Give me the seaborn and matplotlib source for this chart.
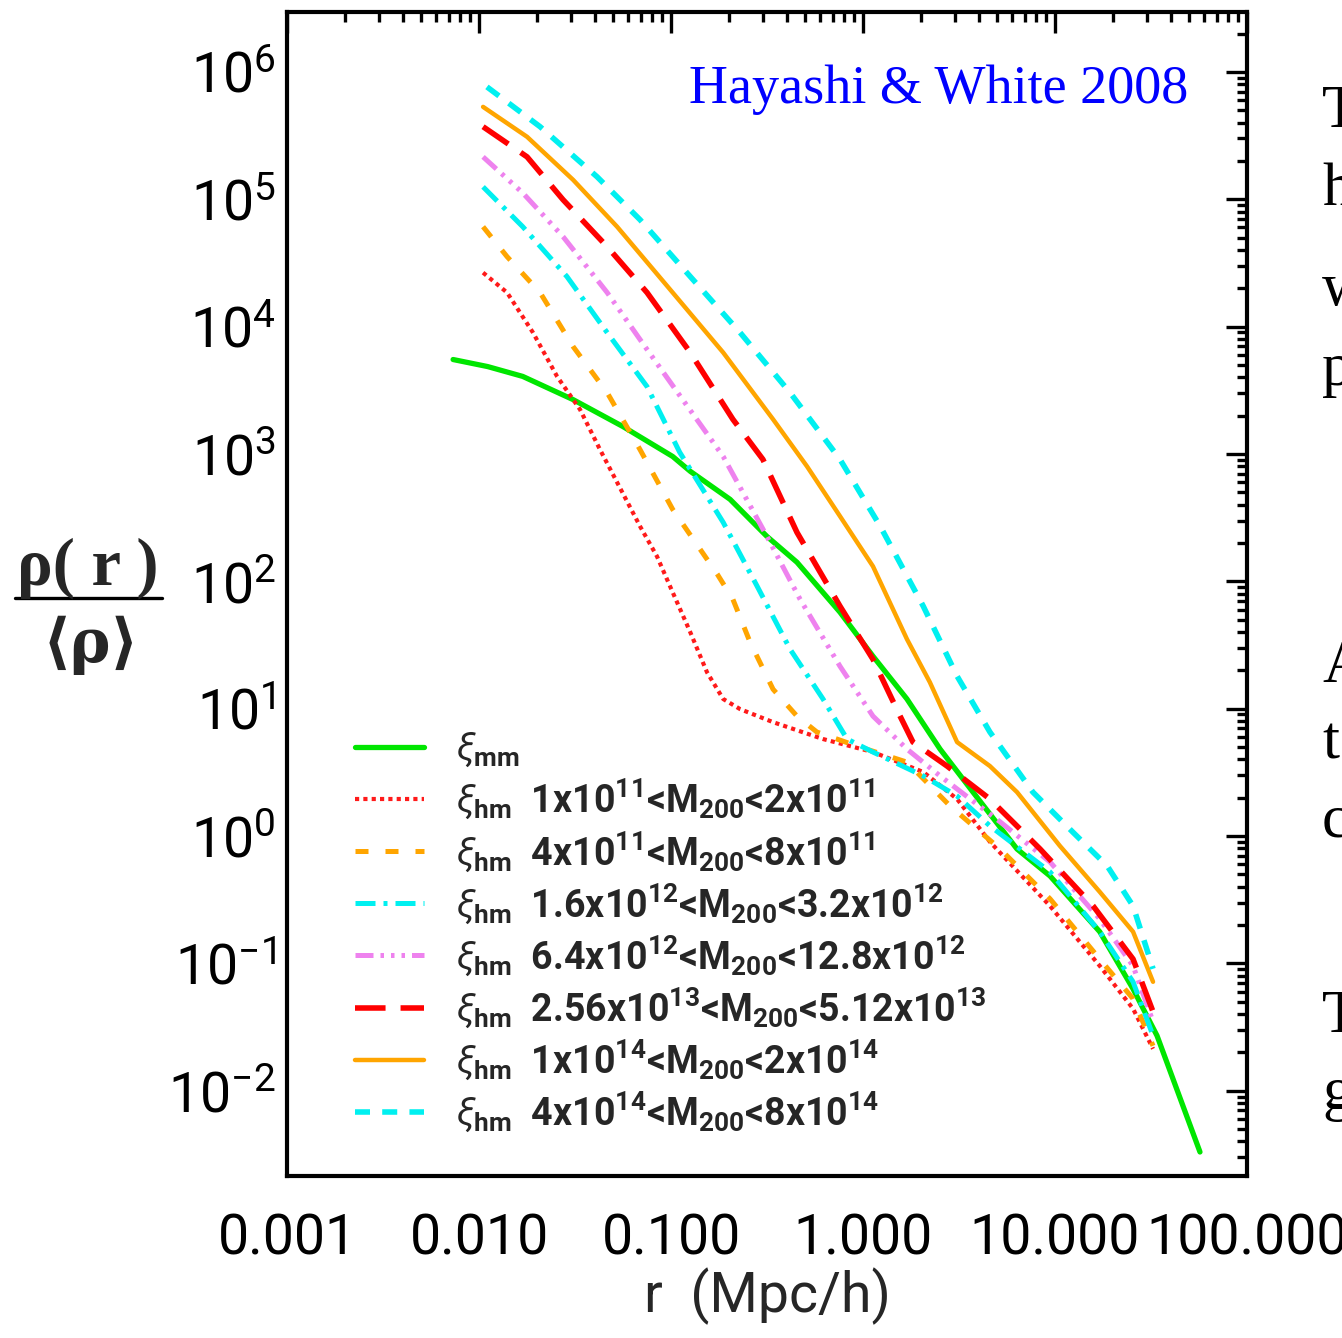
import numpy as np
import pandas as pd
import matplotlib
matplotlib.use("Agg")
import matplotlib.pyplot as plt
import seaborn as sns
from matplotlib.ticker import LogLocator, FixedLocator, FixedFormatter, FuncFormatter, NullFormatter
from matplotlib.lines import Line2D

# ---------------- data ----------------
r_mm = [0.00733, 0.0111, 0.0169, 0.0309, 0.0562, 0.102, 0.126, 0.203, 0.316, 0.453, 0.759, 1.127,
        1.694, 2.52, 3.74, 6.34, 9.42, 17.1, 25.5, 34.0, 56.9]
xi_mm = [5510, 4850, 4060, 2670, 1640, 955, 730, 440, 225, 141, 57.1, 25.8,
         11.9, 4.81, 2.21, 0.79, 0.485, 0.177, 0.063, 0.027, 0.0033]

r_1e11 = [0.0105, 0.014, 0.0191, 0.0255, 0.0336, 0.0427, 0.069, 0.0845, 0.102, 0.126,
          0.154, 0.187, 0.229, 0.340, 0.619, 1.127, 2.06, 3.09, 4.58, 9.42, 17.1, 25.5, 32.4]
xi_1e11 = [26500, 18500, 8970, 4060, 2230, 1080, 270, 157, 82.0, 39.8,
           19.3, 11.9, 9.91, 7.83, 5.77, 4.56, 3.18, 1.95, 0.90, 0.282, 0.0955, 0.044, 0.0213]

r_4e11 = [0.0105, 0.014, 0.0208, 0.0309, 0.0465, 0.069, 0.102, 0.154, 0.174, 0.210, 0.258,
          0.340, 0.453, 0.575, 0.931, 1.694, 2.84, 5.18, 9.42, 17.1, 25.5, 32.4]
xi_4e11 = [60800, 35400, 18500, 6970, 3030, 1080, 367, 149, 114, 72.3, 33.3,
           14.2, 8.73, 6.55, 5.08, 3.80, 1.72, 0.79, 0.321, 0.108, 0.0527, 0.0225]

r_16e12 = [0.0105, 0.0169, 0.0287, 0.0465, 0.075, 0.111, 0.187, 0.281, 0.417, 0.619,
           0.826, 1.127, 2.06, 3.09, 4.58, 9.42, 17.1, 25.5, 32.4]
xi_16e12 = [125000, 60800, 24700, 8970, 3380, 1030, 290, 91.4, 29.3, 11.9,
            5.77, 4.56, 2.96, 2.06, 1.20, 0.522, 0.177, 0.0716, 0.027]

r_64e12 = [0.0105, 0.0169, 0.0274, 0.0465, 0.075, 0.115, 0.187, 0.316, 0.470, 0.759,
           1.127, 1.694, 2.52, 5.18, 9.42, 17.1, 25.5, 32.4]
xi_64e12 = [215000, 112000, 50800, 18500, 6610, 2670, 955, 225, 72.3, 21.5,
            8.73, 4.81, 2.96, 1.29, 0.625, 0.223, 0.0955, 0.0348]

r_256e13 = [0.0105, 0.0178, 0.0274, 0.0465, 0.075, 0.126, 0.210, 0.301, 0.453, 0.759,
            1.127, 1.56, 1.82, 2.74, 4.58, 8.36, 15.8, 25.5, 32.4]
xi_256e13 = [371000, 215000, 99100, 42400, 18500, 6250, 1870, 906, 242, 63.7,
             24.4, 8.73, 5.46, 3.54, 1.95, 0.79, 0.282, 0.108, 0.0417]

r_1e14 = [0.0105, 0.0178, 0.0309, 0.0524, 0.102, 0.187, 0.340, 0.511, 0.759, 1.127,
          1.694, 2.23, 3.09, 4.58, 6.34, 10.6, 17.1, 25.5, 32.4]
xi_1e14 = [531000, 309000, 142000, 60800, 18500, 6250, 1870, 798, 324, 131,
           35.1, 16.1, 5.46, 3.54, 2.21, 0.836, 0.364, 0.177, 0.0716]

r_4e14 = [0.0110, 0.0208, 0.0412, 0.069, 0.126, 0.229, 0.417, 0.759, 1.23, 2.06,
          3.09, 4.58, 7.67, 12.4, 18.7, 25.5, 32.4]
xi_4e14 = [762000, 371000, 150000, 69000, 24700, 8970, 3030, 906, 270, 63.7,
           18.0, 6.55, 2.21, 1.07, 0.582, 0.282, 0.0906]

series_labels = [
    r"$\xi_{\mathbf{mm}}$",
    r"$\xi_{\mathbf{hm}}$  1x10$^{\mathbf{11}}$<M$_{\mathbf{200}}$<2x10$^{\mathbf{11}}$",
    r"$\xi_{\mathbf{hm}}$  4x10$^{\mathbf{11}}$<M$_{\mathbf{200}}$<8x10$^{\mathbf{11}}$",
    r"$\xi_{\mathbf{hm}}$  1.6x10$^{\mathbf{12}}$<M$_{\mathbf{200}}$<3.2x10$^{\mathbf{12}}$",
    r"$\xi_{\mathbf{hm}}$  6.4x10$^{\mathbf{12}}$<M$_{\mathbf{200}}$<12.8x10$^{\mathbf{12}}$",
    r"$\xi_{\mathbf{hm}}$  2.56x10$^{\mathbf{13}}$<M$_{\mathbf{200}}$<5.12x10$^{\mathbf{13}}$",
    r"$\xi_{\mathbf{hm}}$  1x10$^{\mathbf{14}}$<M$_{\mathbf{200}}$<2x10$^{\mathbf{14}}$",
    r"$\xi_{\mathbf{hm}}$  4x10$^{\mathbf{14}}$<M$_{\mathbf{200}}$<8x10$^{\mathbf{14}}$",
]
x_tick_values = [0.001, 0.01, 0.1, 1.0, 10.0, 100.0]
x_tick_labels = ["0.001", "0.010", "0.100", "1.000", "10.000", "100.000"]

# ---------------- styling ----------------
sns.set_style("white")
plt.rcParams["font.family"] = ["Roboto", "DejaVu Sans"]
plt.rcParams["mathtext.fontset"] = "custom"
plt.rcParams["mathtext.rm"] = "Roboto"
plt.rcParams["mathtext.it"] = "Roboto:italic"
plt.rcParams["mathtext.bf"] = "Roboto:bold"

W, H = 1342, 1338
fig = plt.figure(figsize=(W / 100, H / 100), dpi=100)
ax = fig.add_axes([287 / W, 1 - 1176 / H, (1247 - 287) / W, (1176 - 12) / H])
ax.set_xscale("log")
ax.set_yscale("log")

styles = [
    dict(color="#00E600", lw=3.8, ls="-"),
    dict(color="#FF1A1A", lw=3.0, ls=(0, (1.0, 1.0))),
    dict(color="#FFA500", lw=3.6, ls=(0, (2.6, 3.4))),
    dict(color="#00F0F0", lw=3.6, ls=(0, (4.0, 1.6, 0.8, 1.6))),
    dict(color="#EE82EE", lw=3.6, ls=(0, (3.6, 1.4, 0.7, 1.4, 0.7, 1.4, 0.7, 1.4))),
    dict(color="#FF0000", lw=4.0, ls=(0, (5.5, 2.7))),
    dict(color="#FFA500", lw=3.2, ls="-"),
    dict(color="#00F0F0", lw=4.0, ls=(0, (2.7, 2.2))),
]
all_r = [r_mm, r_1e11, r_4e11, r_16e12, r_64e12, r_256e13, r_1e14, r_4e14]
all_xi = [xi_mm, xi_1e11, xi_4e11, xi_16e12, xi_64e12, xi_256e13, xi_1e14, xi_4e14]

handles = []
for rr, vv, lab, st in zip(all_r, all_xi, series_labels, styles):
    df = pd.DataFrame({"r": rr, "rho": vv})
    sns.lineplot(data=df, x="r", y="rho", ax=ax, sort=False, estimator=None,
                 color=st["color"], linewidth=st["lw"])
    ln = ax.lines[-1]
    ln.set_linestyle(st["ls"])
    ln.set_label(lab)
    handles.append(ln)

ax.set_xlim(0.001, 100)
ax.set_ylim(10 ** -2.67, 10 ** 6.47)

# ticks
ax.xaxis.set_major_locator(FixedLocator(x_tick_values))
ax.xaxis.set_major_formatter(FixedFormatter(x_tick_labels))
ax.xaxis.set_minor_locator(LogLocator(base=10, subs=np.arange(2, 10), numticks=50))
ax.xaxis.set_minor_formatter(NullFormatter())
ax.yaxis.set_major_locator(LogLocator(base=10, numticks=20))
ax.yaxis.set_major_formatter(FuncFormatter(lambda v, p: "10$^{%d}$" % int(round(np.log10(v)))))
ax.yaxis.set_minor_locator(LogLocator(base=10, subs=np.arange(2, 10), numticks=50))
ax.yaxis.set_minor_formatter(NullFormatter())

ax.tick_params(which="both", direction="in", top=True, right=True, colors="black", width=2.4)
ax.tick_params(which="major", length=15)
ax.tick_params(which="minor", length=7.5)
ax.tick_params(axis="x", which="major", labelsize=40, pad=26)
ax.tick_params(axis="y", which="major", labelsize=40, pad=8)
for s in ax.spines.values():
    s.set_linewidth(3.0)
    s.set_color("black")

ax.set_xlabel("r  (Mpc/h)", fontsize=40, labelpad=2)
ax.set_ylabel("")

leg = ax.legend(handles=handles, loc="lower left", bbox_to_anchor=(0.055, 0.023),
                frameon=False, prop=dict(size=27, weight="bold"), handlelength=1.85,
                handletextpad=0.85, labelspacing=0.2, borderaxespad=0.0)

# annotation
ax.text((1188 - 287) / 960, (1176 - 90) / 1164, "Hayashi & White 2008", transform=ax.transAxes,
        ha="right", va="center", fontsize=39, color="#0000FF",
        family=["Liberation Serif", "DejaVu Serif"])

# y label as a fraction
fig.text(88 / W, 1 - 568 / H, "ρ( r )", ha="center", va="center", fontsize=48,
         fontweight="bold", family=["Liberation Serif", "DejaVu Serif"])
fig.add_artist(Line2D([15 / W, 162 / W], [1 - 598 / H, 1 - 598 / H], color="black", lw=2.4))
fig.text(91 / W, 1 - 645 / H, "⟨ρ⟩", ha="center", va="center", fontsize=44,
         fontweight="bold", family=["DejaVu Serif", "Liberation Serif"])

# clipped slide text at the right edge
for ch, yy in [("T", 112), ("h", 190), ("w", 290), ("p", 370), ("A", 667), ("t", 744),
               ("c", 822), ("T", 1017), ("g", 1094)]:
    fig.text(1322 / W, 1 - yy / H, ch, ha="left", va="center", fontsize=44,
             family=["Liberation Serif", "DejaVu Serif"], color="black")

fig.savefig("out.png", dpi=100)
